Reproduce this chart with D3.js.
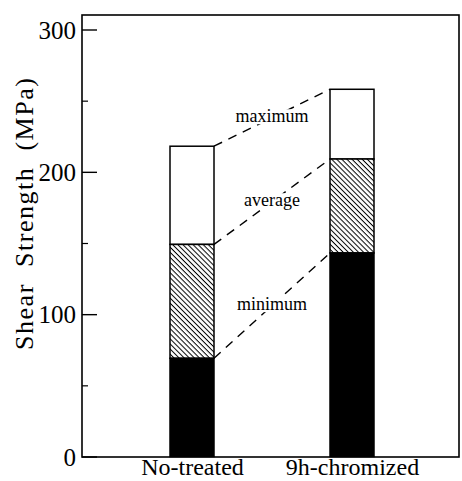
<!DOCTYPE html>
<html>
<head>
<meta charset="utf-8">
<script src="https://cdn.jsdelivr.net/npm/d3@7/dist/d3.min.js"></script>
<style>
  html, body { margin: 0; padding: 0; background: #fff; }
  svg { display: block; }
  text { font-family: "Liberation Serif", "Times New Roman", serif; fill: #000; }
</style>
</head>
<body>
<svg id="chart" width="462" height="481"></svg>
<script>
// ---- data ----
const categories = ["No-treated", "9h-chromized"];
const minimum = [69, 143];
const average = [149, 209];
const maximum = [218, 258];
const levelNames = ["minimum", "average", "maximum"];
const majorTicks = [0, 100, 200, 300];
const minorTicks = [50, 150, 250];
const yTitle = "Shear  Strength  (MPa)";

// ---- layout ----
const frame = { left: 82, right: 459, top: 15, bottom: 457 };
const svg = d3.select("#chart");

const y = d3.scaleLinear().domain([0, 300]).range([456.5, 29.5]);
const x = d3.scalePoint().domain(categories).range([192, 352]);
const barW = 44;

// hatch pattern (lines running top-left to bottom-right)
const defs = svg.append("defs");
const pat = defs.append("pattern")
  .attr("id", "hatch").attr("patternUnits", "userSpaceOnUse")
  .attr("width", 3.6).attr("height", 3.6)
  .attr("patternTransform", "rotate(45)");
pat.append("rect").attr("width", 3.6).attr("height", 3.6).attr("fill", "#fff");
pat.append("line").attr("x1", 0).attr("y1", 0).attr("x2", 3.6).attr("y2", 0)
  .attr("stroke", "#000").attr("stroke-width", 2);

// frame
svg.append("rect")
  .attr("x", frame.left).attr("y", frame.top)
  .attr("width", frame.right - frame.left).attr("height", frame.bottom - frame.top)
  .attr("fill", "none").attr("stroke", "#000").attr("stroke-width", 1.6);

// y axis: major ticks inward
const yAxis = d3.axisLeft(y).tickValues(majorTicks).tickSize(-15).tickPadding(6);
const gy = svg.append("g").attr("transform", `translate(${frame.left},0)`).call(yAxis);
gy.select(".domain").remove();
gy.selectAll(".tick line").attr("stroke", "#000").attr("stroke-width", 1.4);
gy.selectAll(".tick text")
  .attr("font-size", 25).attr("font-family", "Liberation Serif").attr("dy", "0.34em");

const yMinor = d3.axisLeft(y).tickValues(minorTicks).tickSize(-6).tickFormat("");
const gm = svg.append("g").attr("transform", `translate(${frame.left},0)`).call(yMinor);
gm.select(".domain").remove();
gm.selectAll(".tick line").attr("stroke", "#000").attr("stroke-width", 1.2);

// y title
svg.append("text")
  .attr("transform", `translate(33,214) rotate(-90)`)
  .attr("text-anchor", "middle")
  .attr("font-size", 26)
  .attr("textLength", 272)
  .attr("lengthAdjust", "spacing")
  .style("white-space", "pre")
  .text(yTitle);

// x labels
const xAxis = d3.axisBottom(x).tickSize(0).tickPadding(1);
const gx = svg.append("g").attr("transform", `translate(0,${frame.bottom})`).call(xAxis);
gx.select(".domain").remove();
gx.selectAll(".tick text").attr("font-size", 24).attr("font-family", "Liberation Serif");

// bars
const rows = categories.map((c, i) => ({ c, min: minimum[i], avg: average[i], max: maximum[i] }));
const bars = svg.append("g");
rows.forEach(d => {
  const x0 = x(d.c) - barW / 2;
  bars.append("rect").attr("x", x0).attr("width", barW)
    .attr("y", y(d.max)).attr("height", y(d.avg) - y(d.max))
    .attr("fill", "#fff").attr("stroke", "#000").attr("stroke-width", 1.5);
  bars.append("rect").attr("x", x0).attr("width", barW)
    .attr("y", y(d.avg)).attr("height", y(d.min) - y(d.avg))
    .attr("fill", "url(#hatch)").attr("stroke", "#000").attr("stroke-width", 1.5);
  bars.append("rect").attr("x", x0).attr("width", barW)
    .attr("y", y(d.min)).attr("height", y(0) - y(d.min))
    .attr("fill", "#000").attr("stroke", "#000").attr("stroke-width", 1.5);
});

// connectors and level labels
const levels = [minimum, average, maximum];
const lab = svg.append("g");
levels.forEach((arr, k) => {
  const xa = x(categories[0]) + barW / 2, xb = x(categories[1]) - barW / 2;
  const ya = y(arr[0]), yb = y(arr[1]);
  lab.append("line").attr("x1", xa).attr("y1", ya).attr("x2", xb).attr("y2", yb)
    .attr("stroke", "#000").attr("stroke-width", 1.4).attr("stroke-dasharray", "9,7");
  const name = levelNames[k];
  const cx = (xa + xb) / 2, cy = (ya + yb) / 2;
  const g = lab.append("g");
  const t = g.append("text").attr("x", cx).attr("y", cy).attr("dy", "0.25em")
    .attr("text-anchor", "middle").attr("font-size", 18).text(name);
  const bb = t.node().getBBox();
  g.insert("rect", "text")
    .attr("x", bb.x - 2).attr("y", bb.y + 3).attr("width", bb.width + 4).attr("height", bb.height - 5)
    .attr("fill", "#fff");
});
</script>
</body>
</html>
